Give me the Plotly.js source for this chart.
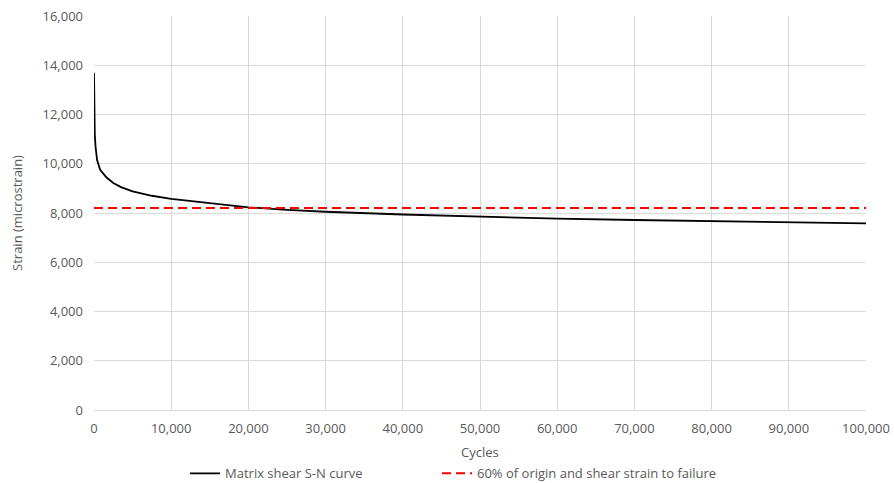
<!DOCTYPE html>
<html>
<head>
<meta charset="utf-8">
<script src="https://cdn.plot.ly/plotly-3.0.1.min.js"></script>
<style>html,body{margin:0;padding:0;background:#fff;}#chart{width:894px;height:483px;}</style>
</head>
<body>
<div id="chart"></div>
<script>
// Matrix shear S-N curve
const cycles = [1, 50, 100, 200, 400, 800, 1600, 2500, 3500, 5000, 7500, 10000, 15000, 20000, 25000, 30000, 40000, 50000, 60000, 70000, 80000, 90000, 100000];
const strain = [13700, 11600, 11200, 10700, 10150, 9750, 9450, 9220, 9050, 8880, 8700, 8570, 8390, 8230, 8130, 8050, 7940, 7850, 7770, 7715, 7665, 7620, 7580];
// 60% reference line
const refCycles = [0, 100000];
const refStrain = [8200, 8200];

const seriesNames = ["Matrix shear S-N curve", "60% of origin and shear strain to failure"];
const xTitle = "Cycles";
const yTitle = "Strain (microstrain)";

const font = "'Open Sans', 'Liberation Sans', sans-serif";
const grey = "#595959";
const fs = 13;

const traces = [
  {x: cycles, y: strain, type: "scatter", mode: "lines", name: seriesNames[0],
   line: {color: "#000000", width: 1.8}, legend: "legend"},
  {x: refCycles, y: refStrain, type: "scatter", mode: "lines", name: seriesNames[1],
   line: {color: "#ff0000", width: 2, dash: "9px,5px"}, legend: "legend2"}
];

const legStyle = {orientation: "h", xanchor: "left", y: 0.02, yref: "container", yanchor: "middle",
                  font: {family: font, size: fs, color: grey}, itemwidth: 30, bgcolor: "rgba(0,0,0,0)"};

const layout = {
  width: 894, height: 483,
  margin: {l: 94, r: 28, t: 16, b: 73, autoexpand: false},
  paper_bgcolor: "#ffffff", plot_bgcolor: "#ffffff",
  font: {family: font, size: fs, color: grey},
  showlegend: true,
  legend: Object.assign({}, legStyle, {x: 0.1179}),
  legend2: Object.assign({}, legStyle, {x: 0.4443}),
  xaxis: {range: [0, 100000], dtick: 10000, tickformat: ",d",
          showgrid: true, gridcolor: "#d9d9d9", gridwidth: 1,
          zeroline: false, showline: true, linecolor: "#d9d9d9", linewidth: 1,
          ticks: "", ticklabelstandoff: 6, tickfont: {family: font, size: fs, color: grey}},
  yaxis: {range: [0, 16000], dtick: 2000, tickformat: ",d", automargin: true,
          showgrid: true, gridcolor: "#d9d9d9", gridwidth: 1,
          zeroline: false, showline: false, ticks: "", ticklabelstandoff: 10,
          tickfont: {family: font, size: fs, color: grey},
          title: {text: yTitle, font: {family: font, size: fs, color: grey}, standoff: 16}},
  annotations: [{text: xTitle, xref: "paper", yref: "paper", x: 0.5, y: -0.106,
                 xanchor: "center", yanchor: "middle", showarrow: false,
                 font: {family: font, size: fs, color: grey}}]
};

Plotly.newPlot("chart", traces, layout, {staticPlot: true, displayModeBar: false});
</script>
</body>
</html>
